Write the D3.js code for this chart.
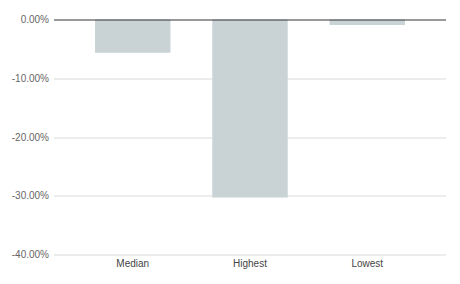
<!DOCTYPE html>
<html>
<head>
<meta charset="utf-8">
<script src="https://cdn.jsdelivr.net/npm/d3@7"></script>
<style>
  body { margin: 0; background: #fff; }
  text { font-family: "Liberation Sans", Arial, sans-serif; }
</style>
</head>
<body>
<svg width="460" height="284"></svg>
<script>
// Data
const categories = ["Median", "Highest", "Lowest"];
const values = [-0.0566, -0.303, -0.0094];
const yTicks = [0, -0.1, -0.2, -0.3, -0.4];

// SVG dimensions
const svgWidth = 460;
const svgHeight = 284;
const margin = {top: 19.5, right: 14, bottom: 29.5, left: 54};

const plotW = svgWidth - margin.left - margin.right;
const plotH = svgHeight - margin.top - margin.bottom;

const svg = d3.select("svg");

const g = svg.append("g")
    .attr("transform", `translate(${margin.left},${margin.top})`);

// Scales
const x = d3.scaleBand()
    .domain(categories)
    .range([0, plotW])
    .paddingInner(0.357)
    .paddingOuter(0.35);

const y = d3.scaleLinear()
    .domain([-0.4, 0])
    .range([plotH, 0]);

// Gridlines
g.selectAll("line.grid")
    .data(yTicks.filter(d => d !== 0))
    .enter()
    .append("line")
    .attr("class", "grid")
    .attr("x1", 0)
    .attr("x2", plotW)
    .attr("y1", d => Math.round(y(d)) + 0.5)
    .attr("y2", d => Math.round(y(d)) + 0.5)
    .attr("stroke", "#d9d9d9")
    .attr("stroke-width", 1);

// Y tick labels (plain hyphen for the minus sign)
const locale = d3.formatLocale({decimal: ".", thousands: ",", grouping: [3], currency: ["$", ""], minus: "-"});
const fmt = locale.format(".2%");
g.selectAll("text.ytick")
    .data(yTicks)
    .enter()
    .append("text")
    .attr("class", "ytick")
    .attr("x", -5)
    .attr("y", d => y(d))
    .attr("dy", "0.35em")
    .attr("text-anchor", "end")
    .attr("font-size", 10)
    .attr("fill", "#666")
    .text(d => fmt(d));

// Bars
g.selectAll("rect.bar")
    .data(values)
    .enter()
    .append("rect")
    .attr("class", "bar")
    .attr("x", (d, i) => x(categories[i]))
    .attr("y", y(0))
    .attr("width", x.bandwidth())
    .attr("height", d => y(d) - y(0))
    .attr("fill", "#c9d2d5");

// Zero line
g.append("line")
    .attr("x1", 0)
    .attr("x2", plotW)
    .attr("y1", Math.round(y(0)) + 0.5)
    .attr("y2", Math.round(y(0)) + 0.5)
    .attr("stroke", "#333")
    .attr("stroke-width", 1);

// Category labels
g.selectAll("text.xlab")
    .data(categories)
    .enter()
    .append("text")
    .attr("class", "xlab")
    .attr("x", d => x(d) + x.bandwidth() / 2)
    .attr("y", plotH + 9)
    .attr("dy", "0.35em")
    .attr("text-anchor", "middle")
    .attr("font-size", 10)
    .attr("fill", "#444")
    .text(d => d);
</script>
</body>
</html>
